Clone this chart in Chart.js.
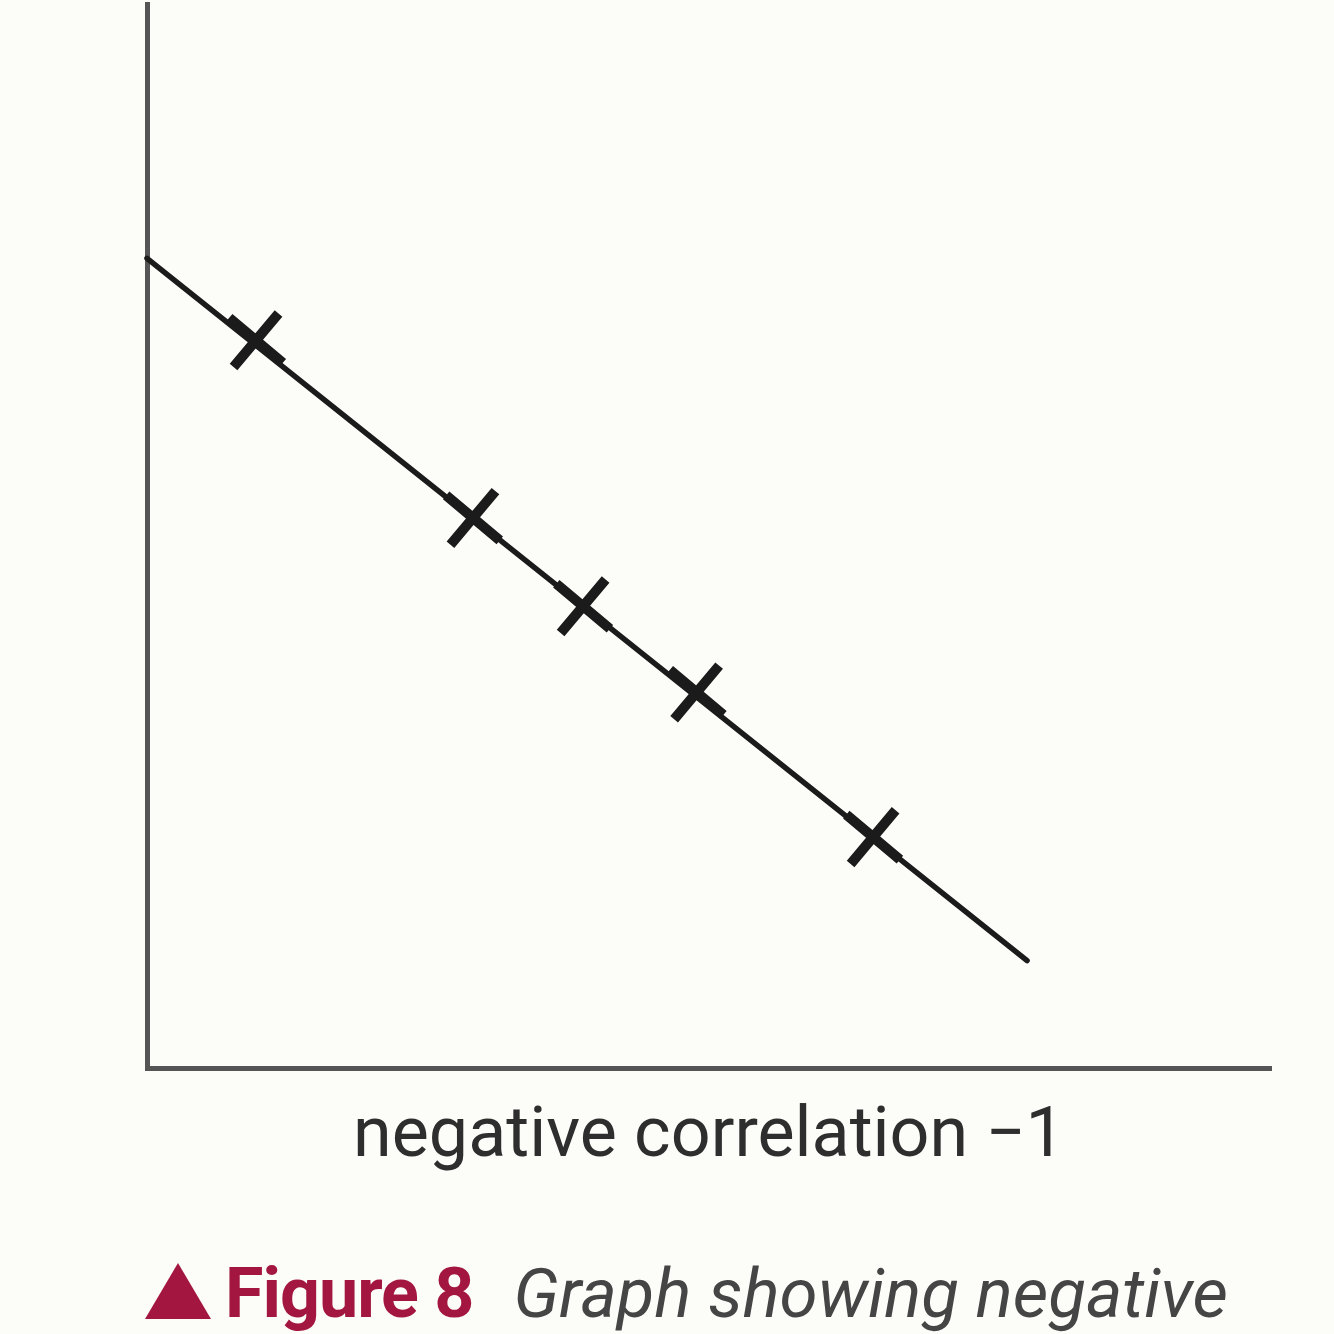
<!DOCTYPE html>
<html>
<head>
<meta charset="utf-8">
<script src="https://cdn.jsdelivr.net/npm/chart.js@4/dist/chart.umd.min.js"></script>
<style>
  html, body { margin: 0; padding: 0; background: #fcfcf8; }
  #wrap { position: relative; width: 1334px; height: 1334px; overflow: hidden; }
  #chart { position: absolute; left: 0; top: -41px; }
  #caption {
    position: absolute; left: 145px; top: 1253px; white-space: nowrap;
    font-family: Roboto, "Noto Sans", sans-serif; font-size: 70px; line-height: 80px;
  }
  #caption .tri {
    display: inline-block; width: 0; height: 0; vertical-align: -2px;
    border-left: 33px solid transparent; border-right: 33px solid transparent;
    border-bottom: 56px solid #a3163f; margin-right: 14px;
  }
  #caption .fig { color: #a3163f; font-weight: bold; margin-right: 40px; letter-spacing: -1px; }
  #caption .txt { color: #454545; font-style: italic; font-size: 69px; }
</style>
</head>
<body>
<div id="wrap">
  <canvas id="chart" width="1334" height="1221"></canvas>
  <div id="caption"><span class="tri"></span><span class="fig">Figure 8</span><span class="txt">Graph showing negative</span></div>
</div>
<script>
'use strict';

// Values (axis units 0..10, no tick labels shown)
const pointX = [0.97, 2.90, 3.88, 4.89, 6.46];
const pointY = [6.84, 5.17, 4.34, 3.53, 2.17];
const fitX = [0, 7.83];
const fitY = [7.61, 1.01];
const xTitle = 'negative correlation \u22121';

const INK = '#1b1b1b';

const ctx = document.getElementById('chart');
new Chart(ctx, {
    data: {
        datasets: [
            {
                type: 'line',
                data: fitX.map((x, i) => ({ x, y: fitY[i] })),
                borderColor: INK, borderWidth: 5.5, borderCapStyle: 'round',
                pointRadius: 0, fill: false, tension: 0
            },
            {
                type: 'scatter',
                data: pointX.map((x, i) => ({ x, y: pointY[i] })),
                pointStyle: 'cross', pointRadius: 35, rotation: 40,
                borderColor: INK, pointBorderWidth: 10, backgroundColor: INK
            }
        ]
    },
    options: {
        responsive: false, animation: false, devicePixelRatio: 1,
        clip: false,
        layout: { padding: { left: 147, right: 63, top: 0, bottom: 0 } },
        plugins: { legend: { display: false }, tooltip: { enabled: false } },
        scales: {
            x: {
                type: 'linear', min: 0, max: 10,
                grid: { display: false, drawTicks: false },
                ticks: { display: false },
                border: { display: true, color: '#555', width: 5 },
                title: {
                    display: true, text: xTitle, color: '#2e2e2e',
                    font: { family: 'Roboto', size: 70 },
                    padding: { top: 28, bottom: 0 }
                }
            },
            y: {
                type: 'linear', min: 0, max: 10,
                grid: { display: false, drawTicks: false },
                ticks: { display: false },
                border: { display: true, color: '#555', width: 5 }
            }
        }
    }
});
</script>
</body>
</html>
